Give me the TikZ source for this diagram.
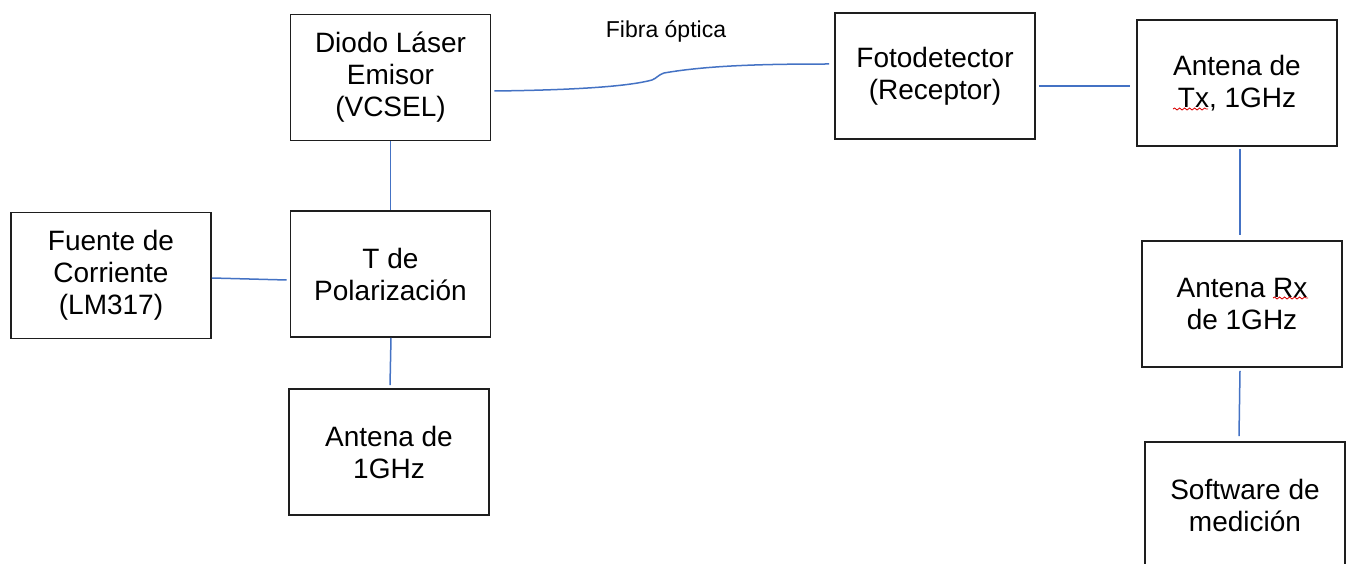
\documentclass[tikz,border=0pt]{standalone}
\usepackage{fontspec}
\setmainfont{Liberation Sans}
\usetikzlibrary{decorations.pathmorphing}
\definecolor{linkblue}{RGB}{68,114,196}
\definecolor{boxline}{RGB}{30,30,30}
\tikzset{
  blockbox/.style={draw=boxline, line width=1.6pt, minimum width=200pt, minimum height=126pt,
    align=center, inner sep=0pt, font=\fontsize{28}{32}\selectfont},
  link/.style={draw=linkblue, line width=1.5pt},
  squig/.style={draw=red!85!black, line width=0.8pt, decorate,
    decoration={snake, amplitude=1pt, segment length=5pt}},
  lbl/.style={font=\fontsize{23}{26}\selectfont, inner sep=0pt}
}
\begin{document}
\begin{tikzpicture}[x=1pt, y=-1pt]
\useasboundingbox (0,0) rectangle (1350,564);
\clip (0,0) rectangle (1350,564);
\fill[white] (0,0) rectangle (1350,564);

\node[blockbox] (diodo)  at (390.5,77.5) {Diodo Láser\\Emisor\\(VCSEL)};
\node[blockbox] (fuente) at (111,275.5)  {Fuente de\\Corriente\\(LM317)};
\node[blockbox] (tpol)   at (390.5,274)  {T de\\Polarización};
\node[blockbox] (ant1)   at (389,452)    {Antena de\\1GHz};
\node[blockbox] (foto)   at (935,76)     {Fotodetector\\(Receptor)};
\node[blockbox] (antTx)  at (1237,83)    {Antena de\\Tx, 1GHz};
\node[blockbox] (antRx)  at (1242,304)   {Antena Rx\\de 1GHz};
\node[blockbox] (soft)   at (1245,505)   {Software de\\medición};

\node[lbl, anchor=base] (fibralbl) at (666,38) {Fibra óptica};

\draw[link] (diodo.south) -- (tpol.north);
\draw[link] ([yshift=-2.5pt]fuente.east) -- ([xshift=-3pt,yshift=-6pt]tpol.west);
\draw[link] ([xshift=0.5pt]tpol.south) -- ([xshift=1pt,yshift=3pt]ant1.north);
\draw[link] ([xshift=3pt,yshift=-13.5pt]diodo.east)
  .. controls (580,90) and (630,86) .. (652,80)
  .. controls (657,78) and (658,75) .. (664,73)
  .. controls (710,65) and (770,64) .. ([xshift=-5pt,yshift=12pt]foto.west);
\draw[link] ([xshift=3pt,yshift=-10pt]foto.east) -- ([xshift=-6pt,yshift=-3pt]antTx.west);
\draw[link] ([xshift=3pt,yshift=-2pt]antTx.south) -- ([xshift=-2pt,yshift=5pt]antRx.north);
\draw[link] ([xshift=-2pt,yshift=-3pt]antRx.south) -- ([xshift=-6pt,yshift=5pt]soft.north);

% spell-check marks
\draw[squig] ([xshift=-64pt,yshift=-26pt]antTx.center) -- ([xshift=-29pt,yshift=-26pt]antTx.center);
\draw[squig] ([xshift=31pt,yshift=6pt]antRx.center) -- ([xshift=66pt,yshift=6pt]antRx.center);
\end{tikzpicture}
\end{document}
